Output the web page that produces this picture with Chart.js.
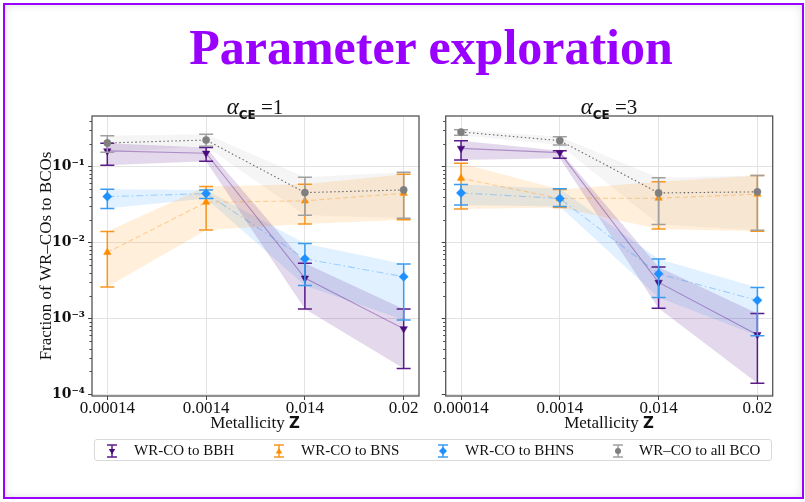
<!DOCTYPE html>
<html>
<head>
<meta charset="utf-8">
<script src="https://cdn.jsdelivr.net/npm/chart.js@4.4.1/dist/chart.umd.min.js"></script>
<style>
  html, body { margin: 0; padding: 0; background: #fff; }
  #slide { position: relative; width: 805px; height: 502px; overflow: hidden; background: #fff; }
  #frame { position: absolute; left: 3px; top: 3px; width: 801px; height: 496px; box-sizing: border-box;
           border: 2px solid #9a00ff; box-shadow: inset 0 0 9px rgba(0,0,0,0.13); }
  #heading { position: absolute; left: 431px; top: 19px; transform: translateX(-50%); margin: 0; white-space: nowrap;
             font: bold 50px 'Liberation Serif', serif; line-height: 56px; color: #9a00ff; }
  canvas { position: absolute; }
  .ptitle { position: absolute; top: 94px; width: 200px; text-align: center; color: #111; line-height: 26px; white-space: nowrap; }
  .ptitle .al { font: italic 23px 'Liberation Serif', serif; }
  .ptitle .sub { font: bold 12px 'DejaVu Sans', sans-serif; position: relative; top: 5px; }
  .ptitle .eq { font: 21px 'Liberation Serif', serif; }
  .xtitle { position: absolute; top: 412px; width: 200px; text-align: center; color: #111; white-space: nowrap;
            font: 17px 'Liberation Serif', serif; line-height: 22px; }
  .xtitle b { font: bold 15px 'DejaVu Sans', sans-serif; }
  #legend { position: absolute; left: 94px; top: 439px; width: 678px; height: 22px; box-sizing: border-box;
            border: 1px solid #d9d9d9; border-radius: 3px; background: #fff; }
  .li { position: absolute; top: 0; height: 20px; white-space: nowrap; font: 15px 'Liberation Serif', serif; color: #111; line-height: 20px; }
  .li svg { position: absolute; top: 2px; }
  .li span { position: absolute; top: 0; }
</style>
</head>
<body>
<div id="slide">
  <div id="frame"></div>
  <h1 id="heading">Parameter exploration</h1>

  <canvas id="panelA" width="425" height="320" style="left:0px;top:100px;"></canvas>
  <canvas id="panelB" width="380" height="320" style="left:425px;top:100px;"></canvas>

  <div class="ptitle" style="left:155px;"><span class="al">α</span><span class="sub">CE</span><span class="eq"> =1</span></div>
  <div class="ptitle" style="left:509px;"><span class="al">α</span><span class="sub">CE</span><span class="eq"> =3</span></div>

  <div class="xtitle" style="left:155px;">Metallicity <b>Z</b></div>
  <div class="xtitle" style="left:509px;">Metallicity <b>Z</b></div>

  <div id="legend">
    <div class="li" style="left:0px;">
      <svg width="16" height="18" style="left:9px;"><line x1="8" y1="3" x2="8" y2="15" stroke="#5a1a8a" stroke-width="1.5"/><line x1="3" y1="3" x2="13" y2="3" stroke="#5a1a8a" stroke-width="1.5"/><line x1="3" y1="15" x2="13" y2="15" stroke="#5a1a8a" stroke-width="1.5"/><polygon points="4.8,7 11.2,7 8,12.5" fill="#4b0a7d"/></svg>
      <span style="left:39px;">WR-CO to BBH</span>
    </div>
    <div class="li" style="left:167px;">
      <svg width="16" height="18" style="left:9px;"><line x1="8" y1="3" x2="8" y2="15" stroke="#f7961f" stroke-width="1.5"/><line x1="3" y1="3" x2="13" y2="3" stroke="#f7961f" stroke-width="1.5"/><line x1="3" y1="15" x2="13" y2="15" stroke="#f7961f" stroke-width="1.5"/><polygon points="4.8,11.5 11.2,11.5 8,6" fill="#ff8c00"/></svg>
      <span style="left:39px;">WR-CO to BNS</span>
    </div>
    <div class="li" style="left:331px;">
      <svg width="16" height="18" style="left:9px;"><line x1="8" y1="3" x2="8" y2="15" stroke="#3a9cf0" stroke-width="1.5"/><line x1="3" y1="3" x2="13" y2="3" stroke="#3a9cf0" stroke-width="1.5"/><line x1="3" y1="15" x2="13" y2="15" stroke="#3a9cf0" stroke-width="1.5"/><polygon points="8,5 12,9 8,13 4,9" fill="#1e90ff"/></svg>
      <span style="left:39px;">WR-CO to BHNS</span>
    </div>
    <div class="li" style="left:506px;">
      <svg width="16" height="18" style="left:9px;"><line x1="8" y1="3" x2="8" y2="15" stroke="#a0a0a0" stroke-width="1.5"/><line x1="3" y1="3" x2="13" y2="3" stroke="#a0a0a0" stroke-width="1.5"/><line x1="3" y1="15" x2="13" y2="15" stroke="#a0a0a0" stroke-width="1.5"/><circle cx="8" cy="9" r="3" fill="#7f7f7f"/></svg>
      <span style="left:38px;">WR–CO to all BCO</span>
    </div>
  </div>
</div>

<script>
// Metallicity categories (x axis)
const zLabels = ['0.00014', '0.0014', '0.014', '0.02'];

// Logarithmic y axis: decade ticks and their labels
const yTickExp = [-4, -3, -2, -1];
const yTickLabels = ['10⁻⁴', '10⁻³', '10⁻²', '10⁻¹'];
const yMinorMantissas = [2, 3, 4, 5, 6, 7, 8, 9];
const yMin = 9.5e-5;
const yMax = 0.4645;

// alpha_CE = 1 : fractions with lower / upper bounds
const bbhA1   = [0.161, 0.150, 0.0034, 0.00073];
const bbhA1Lo = [0.104, 0.118, 0.00133, 0.000218];
const bbhA1Hi = [0.203, 0.178, 0.00535, 0.00133];

const bnsA1   = [0.0074, 0.034, 0.0354, 0.0446];
const bnsA1Lo = [0.0026, 0.0146, 0.0175, 0.0199];
const bnsA1Hi = [0.014, 0.0546, 0.0586, 0.0794];

const bhnsA1   = [0.0403, 0.0441, 0.0061, 0.00354];
const bhnsA1Lo = [0.028, 0.038, 0.00272, 0.00095];
const bhnsA1Hi = [0.0504, 0.0493, 0.0097, 0.0052];

const bcoA1   = [0.205, 0.224, 0.0455, 0.0493];
const bcoA1Lo = [0.155, 0.185, 0.0229, 0.0209];
const bcoA1Hi = [0.256, 0.267, 0.0724, 0.0843];

// alpha_CE = 3
const bbhA3   = [0.174, 0.153, 0.00298, 0.00061];
const bbhA3Lo = [0.122, 0.129, 0.00136, 0.00014];
const bbhA3Hi = [0.220, 0.162, 0.00474, 0.00116];

const bnsA3   = [0.0703, 0.038, 0.0384, 0.0434];
const bnsA3Lo = [0.0277, 0.029, 0.0151, 0.0141];
const bnsA3Hi = [0.111, 0.050, 0.063, 0.0762];

const bhnsA3   = [0.045, 0.038, 0.00387, 0.00173];
const bhnsA3Lo = [0.0313, 0.0298, 0.00189, 0.00059];
const bhnsA3Hi = [0.058, 0.051, 0.00605, 0.00256];

const bcoA3   = [0.286, 0.220, 0.045, 0.0465];
const bcoA3Lo = [0.259, 0.193, 0.0173, 0.0145];
const bcoA3Hi = [0.307, 0.248, 0.0716, 0.0762];

// Per-channel appearance
const styles = {
  bbh:  { color: '#4b0a7d', err: '#5a1a8a', band: 'rgba(75,0,130,0.15)',   line: 'rgba(75,0,130,0.35)',  dash: [],           point: 'triangle', rot: 180, r: 4.3, order: 4 },
  bns:  { color: '#ff8c00', err: '#f7961f', band: 'rgba(255,140,0,0.14)',  line: 'rgba(255,140,0,0.35)', dash: [5, 3],       point: 'triangle', rot: 0,   r: 4.3, order: 3 },
  bhns: { color: '#1e90ff', err: '#3a9cf0', band: 'rgba(30,144,255,0.13)', line: 'rgba(30,144,255,0.35)',dash: [7, 3, 1.5, 3], point: 'rectRot', rot: 0,   r: 4.6, order: 2 },
  bco:  { color: '#7f7f7f', err: '#a0a0a0', band: 'rgba(128,128,128,0.08)',line: 'rgba(80,80,80,0.85)',  dash: [1.5, 2.5],   point: 'circle',   rot: 0,   r: 3.6, order: 1 }
};

const toPts = arr => arr.map((v, i) => ({ x: i, y: v }));

function channelDatasets(key, mid, lo, hi) {
  const s = styles[key];
  return [
    { data: toPts(hi), borderWidth: 0, pointRadius: 0, fill: false, order: 10 },
    { data: toPts(lo), borderWidth: 0, pointRadius: 0, fill: '-1', backgroundColor: s.band, order: 10 },
    { data: toPts(mid), errLo: lo, errHi: hi, errColor: s.err,
      borderColor: s.line, borderWidth: 1.1, borderDash: s.dash, fill: false, tension: 0,
      pointStyle: s.point, pointRotation: s.rot, pointRadius: s.r,
      pointBackgroundColor: s.color, pointBorderColor: s.color, pointBorderWidth: 0.5, order: s.order }
  ];
}

const isDecade = v => v != null && Math.abs(Math.log10(v) - Math.round(Math.log10(v))) < 1e-9;

// Vertical error bars with caps, drawn under each channel's markers
const errorBarPlugin = {
  id: 'errorBars',
  beforeDatasetDraw(chart, args) {
    const ds = chart.data.datasets[args.index];
    if (!ds.errLo) return;
    const { ctx } = chart;
    const x = chart.scales.x, y = chart.scales.y;
    const cap = 7;
    ctx.save();
    ctx.strokeStyle = ds.errColor;
    ctx.lineWidth = 1.5;
    ds.data.forEach((p, i) => {
      const px = x.getPixelForValue(p.x);
      const top = y.getPixelForValue(ds.errHi[i]);
      const bot = y.getPixelForValue(ds.errLo[i]);
      ctx.beginPath();
      ctx.moveTo(px, top); ctx.lineTo(px, bot);
      ctx.moveTo(px - cap, top); ctx.lineTo(px + cap, top);
      ctx.moveTo(px - cap, bot); ctx.lineTo(px + cap, bot);
      ctx.stroke();
    });
    ctx.restore();
  }
};

// Axes frame and short minor tick marks on the log axis
const framePlugin = {
  id: 'frame',
  afterDraw(chart) {
    const { ctx, chartArea: a } = chart;
    const y = chart.scales.y;
    ctx.save();
    ctx.strokeStyle = '#444';
    ctx.lineWidth = 1;
    y.ticks.forEach(t => {
      if (isDecade(t.value)) return;
      const py = Math.round(y.getPixelForValue(t.value)) + 0.5;
      ctx.beginPath(); ctx.moveTo(a.left - 2.5, py); ctx.lineTo(a.left, py); ctx.stroke();
    });
    ctx.strokeStyle = '#555';
    ctx.lineWidth = 1.3;
    ctx.strokeRect(a.left, a.top, a.right - a.left, a.bottom - a.top);
    ctx.restore();
  }
};

function makePanel(id, datasets, showYLabels) {
  const yTicks = [];
  for (let e = -5; e <= 0; e++) {
    const d = Math.pow(10, e);
    if (d >= yMin && d <= yMax) yTicks.push({ value: d });
    yMinorMantissas.forEach(m => { const v = m * d; if (v >= yMin && v <= yMax) yTicks.push({ value: v }); });
  }
  yTicks.sort((a, b) => a.value - b.value);

  return new Chart(document.getElementById(id), {
    type: 'line',
    data: { datasets },
    options: {
      responsive: false,
      animation: false,
      devicePixelRatio: 1,
      events: [],
      layout: { padding: showYLabels ? { left: 0, right: 6, top: 16, bottom: 4 } : { left: 10.7, right: 32.3, top: 16, bottom: 4 } },
      plugins: { legend: { display: false }, tooltip: { enabled: false } },
      scales: {
        x: {
          type: 'linear', min: -0.155, max: 3.155,
          afterBuildTicks: s => { s.ticks = zLabels.map((_, i) => ({ value: i })); },
          afterFit: s => { s.height = 20; },
          ticks: { callback: v => zLabels[v], font: { family: 'Liberation Serif', size: 17 }, color: '#111', padding: -2, maxRotation: 0, autoSkip: false },
          grid: { color: '#e3e3e3', lineWidth: 1, tickLength: 4, tickColor: '#444' },
          border: { display: false }
        },
        y: {
          type: 'logarithmic', min: yMin, max: yMax,
          afterBuildTicks: s => { s.ticks = yTicks.map(t => ({ value: t.value })); },
          afterFit: s => { s.width = showYLabels ? 92 : 10; },
          ticks: {
            display: showYLabels, autoSkip: false, padding: 3, color: '#111',
            font: { family: 'DejaVu Serif', size: 14, weight: 'bold' },
            callback: v => { const k = yTickExp.indexOf(Math.round(Math.log10(v))); return isDecade(v) && k >= 0 ? yTickLabels[k] : ''; }
          },
          grid: {
            color: c => isDecade(c.tick && c.tick.value) ? '#e3e3e3' : 'rgba(0,0,0,0)',
            tickColor: c => isDecade(c.tick && c.tick.value) ? '#444' : 'rgba(0,0,0,0)',
            tickLength: 4, lineWidth: 1
          },
          border: { display: false },
          title: {
            display: showYLabels, text: 'Fraction of WR–COs to BCOs', color: '#111',
            font: { family: 'Liberation Serif', size: 17 }, padding: { top: 36, bottom: 0 }
          }
        }
      }
    },
    plugins: [errorBarPlugin, framePlugin]
  });
}

makePanel('panelA', [
  ...channelDatasets('bbh', bbhA1, bbhA1Lo, bbhA1Hi),
  ...channelDatasets('bns', bnsA1, bnsA1Lo, bnsA1Hi),
  ...channelDatasets('bhns', bhnsA1, bhnsA1Lo, bhnsA1Hi),
  ...channelDatasets('bco', bcoA1, bcoA1Lo, bcoA1Hi)
], true);

makePanel('panelB', [
  ...channelDatasets('bbh', bbhA3, bbhA3Lo, bbhA3Hi),
  ...channelDatasets('bns', bnsA3, bnsA3Lo, bnsA3Hi),
  ...channelDatasets('bhns', bhnsA3, bhnsA3Lo, bhnsA3Hi),
  ...channelDatasets('bco', bcoA3, bcoA3Lo, bcoA3Hi)
], false);
</script>
</body>
</html>
